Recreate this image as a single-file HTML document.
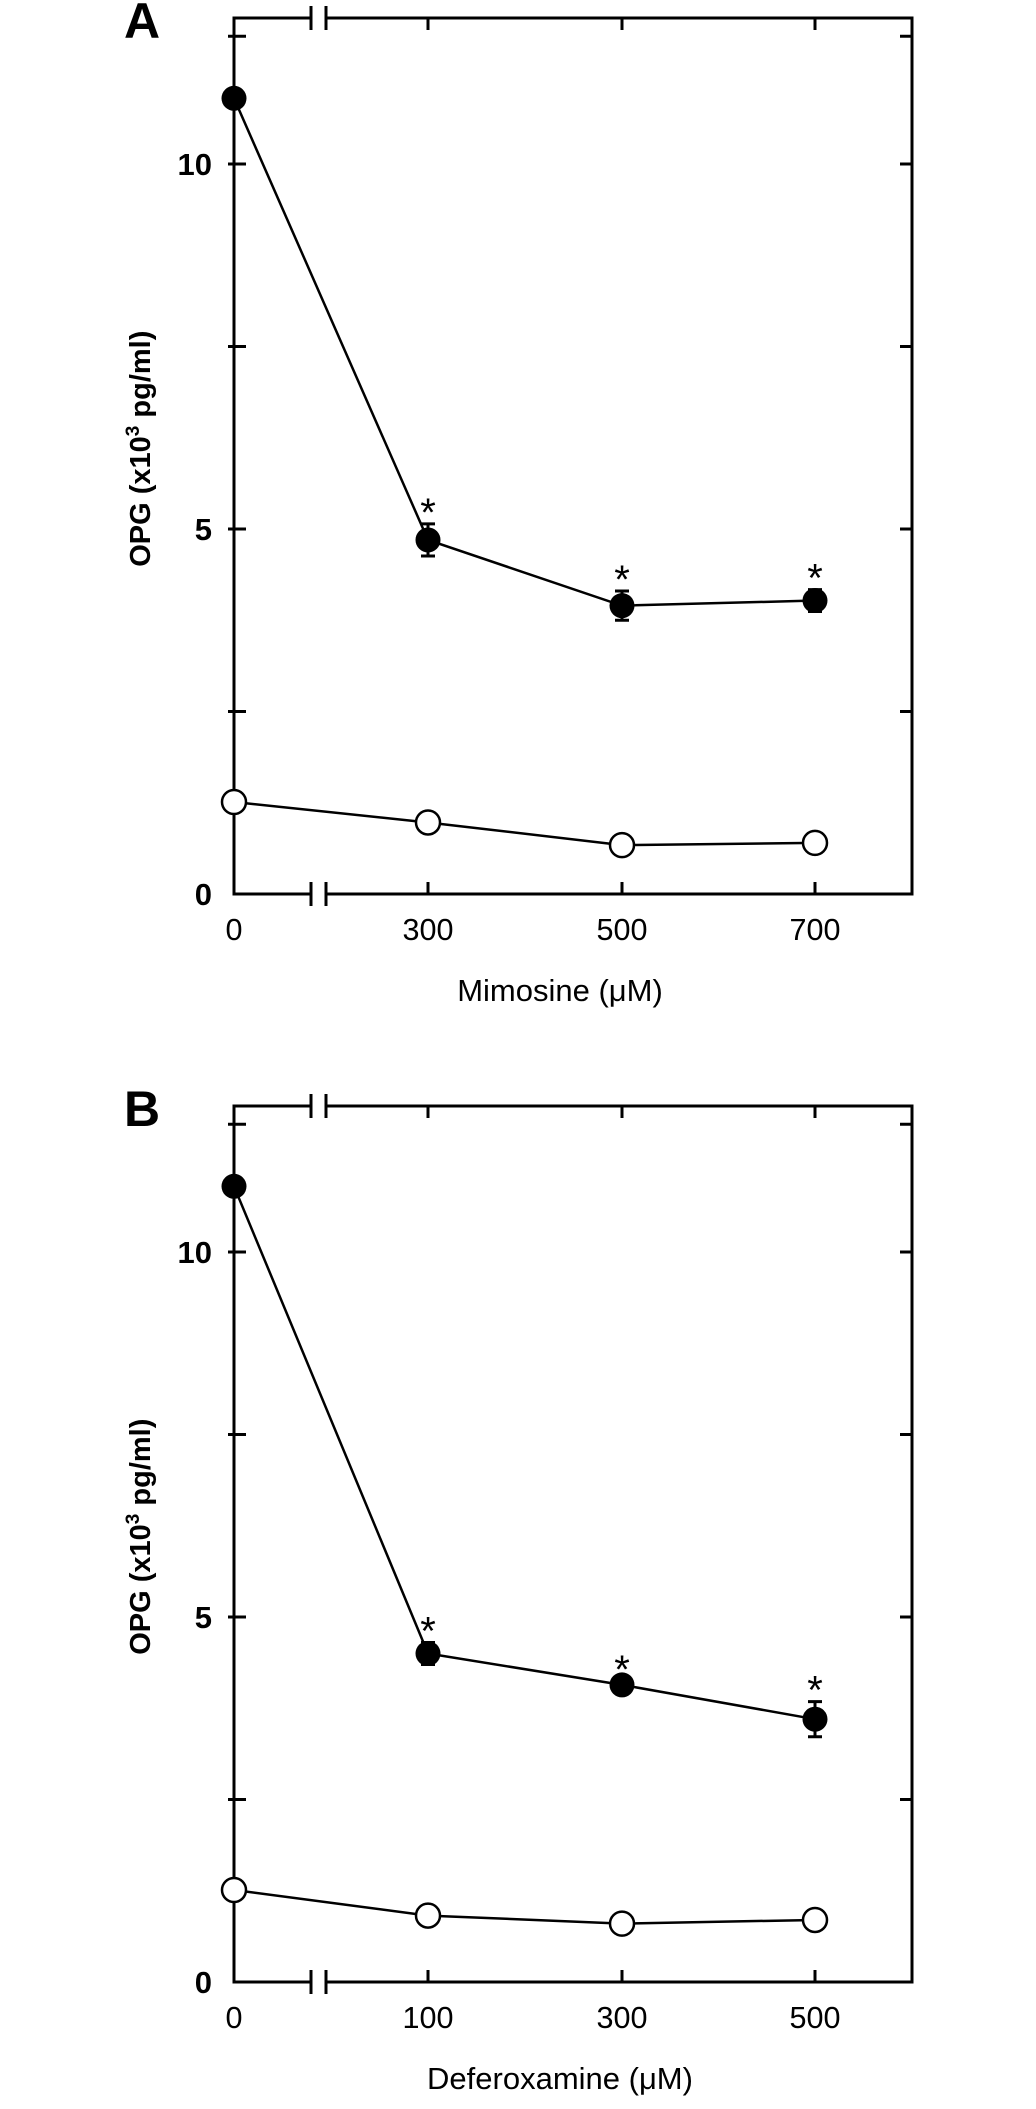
<!DOCTYPE html>
<html><head><meta charset="utf-8"><style>
html,body{margin:0;padding:0;background:#fff}
svg{display:block}
text{font-family:"Liberation Sans",Arial,sans-serif;fill:#000}
</style></head><body>
<svg id="fig" width="1036" height="2109" viewBox="0 0 1036 2109"></svg>
<script>
// Panel A data
const catsA = ["0","300","500","700"];
const filledA = [10.9, 4.85, 3.95, 4.02];
const filledErrA = [0.1, 0.22, 0.2, 0.15];
const openA = [1.26, 0.98, 0.67, 0.70];
const sigA = [false, true, true, true];
// Panel B data
const catsB = ["0","100","300","500"];
const filledB = [10.9, 4.5, 4.07, 3.6];
const filledErrB = [0.1, 0.15, 0.05, 0.24];
const openB = [1.26, 0.91, 0.80, 0.85];
const sigB = [false, true, true, true];
const yTicks = [0, 2.5, 5, 7.5, 10, 11.75];
const yTickLabels = {0:"0", 5:"5", 10:"10"};

const NS = "http://www.w3.org/2000/svg";
const svg = document.getElementById('fig');
function el(tag, attrs, parent){
  const e = document.createElementNS(NS, tag);
  for (const k in attrs) e.setAttribute(k, attrs[k]);
  (parent||svg).appendChild(e);
  return e;
}
const L = 234, R = 912, BR1 = 311, BR2 = 326;
const xPos = [234, 428, 622, 815];
const UNIT = 73;

function panel(id, y0, label, cats, filled, ferr, open, sig, title){
  const g = el('g', {});
  
  
  const yS = v => y0 - v * UNIT;
  const top = yS(12);
  const st = {stroke:'#000','stroke-width':3,fill:'none'};
  const la = el('line', Object.assign({x1:L,y1:top,x2:L,y2:y0}, st), g);
  
  
  const ra = el('line', Object.assign({x1:R,y1:top,x2:R,y2:y0}, st), g);
  
  
  [top, y0].forEach((yy, i) => {
    const a1 = el('line', Object.assign({x1:L-1.5,y1:yy,x2:BR1,y2:yy}, st), g);
    
    
    const a2 = el('line', Object.assign({x1:BR2,y1:yy,x2:R+1.5,y2:yy}, st), g);
    
    
    [BR1, BR2].forEach(bx => {
      const b = el('line', Object.assign({x1:bx,y1:yy-12,x2:bx,y2:yy+12}, st), g);
      
      
    });
    for (let k = 1; k < xPos.length; k++){
      const t = el('line', Object.assign({x1:xPos[k],y1:yy,x2:xPos[k],y2: i ? yy-12 : yy+12}, st), g);
      
      
    }
  });
  yTicks.forEach(v => {
    if (v === 0) return;
    const yy = yS(v);
    const t1 = el('line', Object.assign({x1:L-6,y1:yy,x2:L+12,y2:yy}, st), g);
    
    
    const t2 = el('line', Object.assign({x1:R-12,y1:yy,x2:R,y2:yy}, st), g);
    
    
  });
  Object.keys(yTickLabels).forEach(k => {
    const t = el('text', {x:212, y:yS(+k)+11, 'text-anchor':'end', 'font-size':31, 'font-weight':'bold'}, g);
    t.textContent = yTickLabels[k];
    
    
  });
  cats.forEach((c, i) => {
    const t = el('text', {x:xPos[i], y:y0+46, 'text-anchor':'middle', 'font-size':31, 'textLength': c.length*17, 'lengthAdjust':'spacingAndGlyphs'}, g);
    t.textContent = c;
    
    
  });
  const xt = el('text', {x:560, y:y0+107, 'text-anchor':'middle', 'font-size':31}, g);
  xt.textContent = title;
  
  
  const yt = el('text', {x:0, y:0, 'text-anchor':'middle', 'font-size':29, 'font-weight':'bold', transform:`translate(150 ${yS(6.1)}) rotate(-90)`}, g);
  yt.innerHTML = 'OPG (x10<tspan font-size="19" dy="-11">3</tspan><tspan dy="11"> pg/ml)</tspan>';
  
  
  const pl = el('text', {x:124, y:top+20, 'font-size':50, 'font-weight':'bold'}, g);
  pl.textContent = label;
  
  
  const fl = el('polyline', {points: filled.map((v,i)=>xPos[i]+','+yS(v)).join(' '), stroke:'#000','stroke-width':2.5, fill:'none'}, g);
  
  
  const ol = el('polyline', {points: open.map((v,i)=>xPos[i]+','+yS(v)).join(' '), stroke:'#000','stroke-width':2.5, fill:'none'}, g);
  
  
  filled.forEach((v, i) => {
    const e = ferr[i];
    const eb = el('path', {d:`M${xPos[i]} ${yS(v+e)}V${yS(v-e)}M${xPos[i]-7} ${yS(v+e)}h14M${xPos[i]-7} ${yS(v-e)}h14`, stroke:'#000','stroke-width':3, fill:'none'}, g);
    
    
    const c = el('circle', {cx:xPos[i], cy:yS(v), r:12.5, fill:'#000'}, g);
    
    
    if (sig[i]){
      const s = el('text', {x:xPos[i], y:yS(v+e)+2, 'text-anchor':'middle', 'font-size':40}, g);
      s.textContent = '*';
      
      
    }
  });
  open.forEach((v, i) => {
    const c = el('circle', {cx:xPos[i], cy:yS(v), r:12, fill:'#fff', stroke:'#000','stroke-width':2.5}, g);
    
    
  });
}
panel('a', 894, 'A', catsA, filledA, filledErrA, openA, sigA, 'Mimosine (\u03bcM)');
panel('b', 1982, 'B', catsB, filledB, filledErrB, openB, sigB, 'Deferoxamine (\u03bcM)');
</script>
</body></html>
